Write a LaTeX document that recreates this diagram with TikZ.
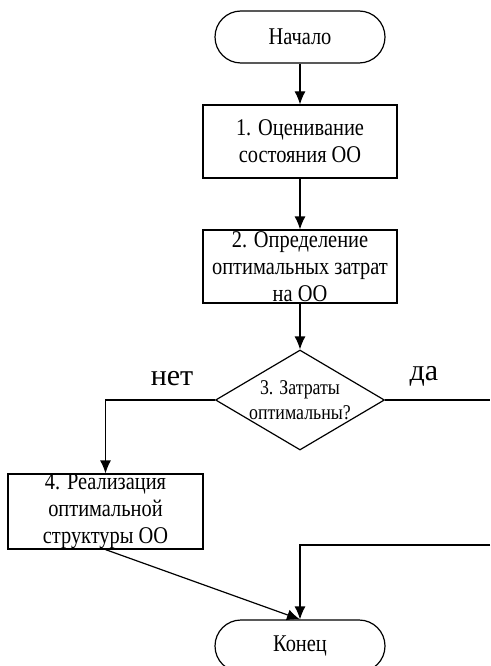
\documentclass[tikz,border=0pt]{standalone}
\usepackage{fontspec}
\setmainfont{Liberation Serif}
\newfontfamily\condfont[FakeStretch=0.85]{Liberation Serif}
\usetikzlibrary{shapes.geometric, arrows.meta}
\tikzset{
	blk/.style={draw, line width=1.2pt, minimum width=194pt, minimum height=73pt, align=center, inner sep=0pt, font=\condfont\fontsize{24}{27}\selectfont},
	term/.style={draw, line width=1.2pt, rounded corners=26pt, minimum width=170pt, minimum height=52pt, inner sep=0pt, font=\condfont\fontsize{24}{27}\selectfont},
	dec/.style={draw, diamond, line width=1.2pt, minimum width=169pt, minimum height=100pt, inner sep=0pt},
	lnk/.style={line width=1.2pt, -{Latex[length=13pt, width=11pt]}},
	ans/.style={font=\fontsize{30}{34}\selectfont}
}
\begin{document}
\begin{tikzpicture}[x=1pt, y=-1pt]
		\useasboundingbox(0, 0)rectangle(490, 666);
		\node[term](start)at(300, 37){Начало};
		\node[blk](eval)at(300, 141.5){1. Оценивание\\состояния ОО};
		\node[blk](cost)at(300, 266.5){2. Определение\\оптимальных затрат\\на ОО};
		\node[dec](check)at(300, 400){};
		\node[align=center, inner sep=0pt, font=\condfont\fontsize{21}{25}\selectfont](checktxt)at(check.center){3. Затраты\\оптимальны?};
		\node[blk, minimum width=195pt](impl)at(105.5, 511.5){4. Реализация\\оптимальной\\структуры ОО};
		\node[term](stop)at(300, 646){Конец};
		\coordinate(yes)at(490, 400);
		\coordinate(back)at(490, 545);
		\draw[lnk](start)--(eval);
		\draw[lnk](eval)--(cost);
		\draw[lnk](cost)--(check);
		\draw[lnk](check.west)-|(impl.north);
		\draw[line width=1.2pt](check.east)--(yes);
		\draw[lnk](impl.south)--(stop.north);
		\draw[lnk](back)-|(stop.north);
		\node[ans](no)at(172, 379){нет};
		\node[ans](da)at(424, 376){да};
	\end{tikzpicture}
\end{document}
